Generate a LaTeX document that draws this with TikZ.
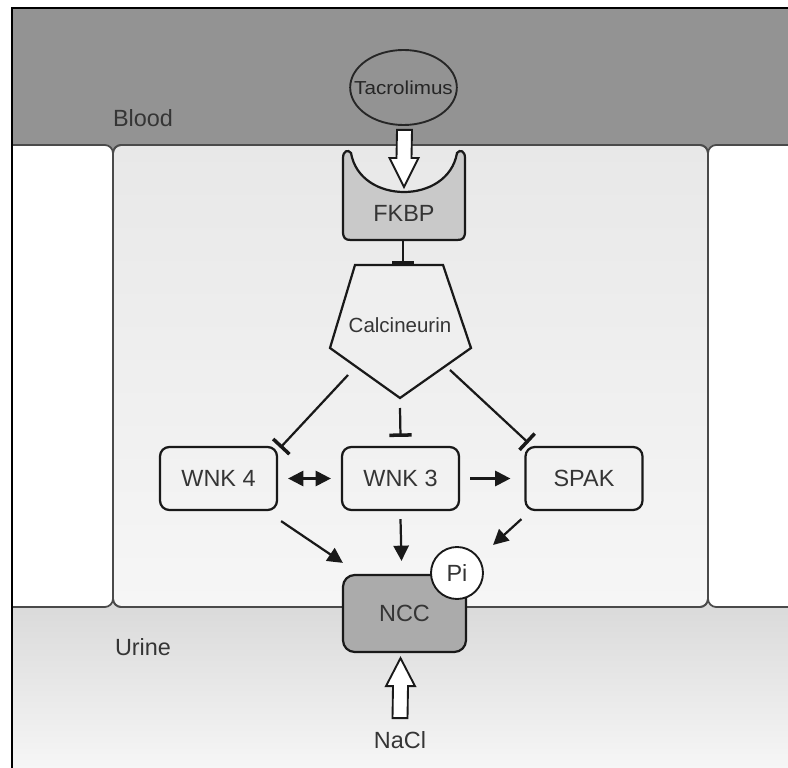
\documentclass[tikz,border=0pt]{standalone}
\usepackage{fontspec}
\setmainfont{Liberation Sans}
\usetikzlibrary{arrows.meta,calc,shapes.geometric}

\definecolor{blood}{HTML}{939393}
\definecolor{cellgrey}{HTML}{E8E8E8}
\definecolor{cellpale}{HTML}{F6F6F6}
\definecolor{urinetop}{HTML}{D9D9D9}
\definecolor{urinebot}{HTML}{F8F8F8}
\definecolor{membrane}{HTML}{4A4A4A}
\definecolor{fkbpfill}{HTML}{C9C9C9}
\definecolor{nccfill}{HTML}{ABABAB}
\definecolor{ink}{HTML}{353535}

\tikzset{
  lbl/.style={text=ink, font=\fontsize{20}{24}\selectfont, inner sep=0pt},
  kinase/.style={draw=black!90, line width=1.9pt, rounded corners=8pt,
    minimum width=3.51cm, minimum height=1.89cm, lbl},
  conn/.style={line width=1.9pt, draw=black!90},
  tipstyle/.style={},
  act/.style={conn, -{Triangle[length=13pt,width=13pt]}},
  actboth/.style={conn, {Triangle[length=13pt,width=13pt]}-{Triangle[length=13pt,width=13pt]}},
  inhib/.style={conn, -{Bar[width=19pt,line width=3pt]}},
  hollow/.style={draw=black!90, line width=1.6pt, fill=white, line join=miter},
  cellwall/.style={draw=membrane, line width=1.5pt, rounded corners=7pt}
}

\begin{document}
\begin{tikzpicture}[x=0.03cm, y=-0.03cm]
\useasboundingbox (0,0) rectangle (788,768);

% compartments: blood, urine and the three epithelial cells
\begin{scope}
  \clip (12,8) rectangle (788,768);
  \fill[blood] (0,0) rectangle (800,600);
  \shade[top color=urinetop, bottom color=urinebot] (0,600) rectangle (800,780);
  \filldraw[cellwall, fill=white] (-30,145) rectangle (113,607);
  \shade[cellwall, top color=cellgrey, bottom color=cellpale] (113,145) rectangle (708,607);
  \draw[cellwall] (113,145) rectangle (708,607);
  \filldraw[cellwall, fill=white] (708,145) rectangle (830,607);
\end{scope}
\draw[black, line width=1.5pt] (12,768) -- (12,8) -- (788,8);

% compartment labels
\node[lbl] (blood) at (143,118) {Blood};
\node[lbl] (urine) at (143,647) {Urine};

% Tacrolimus
\node[ellipse, draw=black!85, line width=1.6pt, fill=blood, minimum width=3.2cm,
  minimum height=2.25cm, inner sep=0pt, text=black!85,
  font=\fontsize{16}{18}\selectfont] (tac) at (403.5,87.5)
  {\makebox[0pt]{\scalebox{1.1}[1]{Tacrolimus}}};

% FKBP receptor with concave binding site
\filldraw[draw=black!90, line width=1.9pt, fill=fkbpfill]
  (343,158) .. controls (343,151) and (348,149) .. (351,153)
  .. controls (360,205) and (448,205) .. (457,153)
  .. controls (460,149) and (465,151) .. (465,158)
  -- (465,231) .. controls (465,238) and (463,240) .. (457,240)
  -- (351,240) .. controls (345,240) and (343,238) .. (343,231) -- cycle;
\node[lbl] (fkbp) at (404,213) {FKBP};

% binding arrow Tacrolimus -> FKBP
\coordinate (dtop) at ($(tac.south)+(1,4)$);
\coordinate (dtip) at ($(fkbp)+(0,-26)$);
\path[hollow] ($(dtop)+(-7.5,0)$) -- ($(dtip)+(-7.5,-29)$) -- ($(dtip)+(-14.5,-29)$)
  -- (dtip) -- ($(dtip)+(14.5,-29)$) -- ($(dtip)+(7.5,-29)$) -- ($(dtop)+(7.5,0)$) -- cycle;

% Calcineurin
\filldraw[draw=black!90, line width=1.9pt, fill=cellgrey!70!white, line join=miter]
  (355,265) -- (443,265) -- (471,348) -- (400,398) -- (330,348) -- cycle;
\node[lbl, font=\fontsize{17.5}{20}\selectfont] (cal) at (400,325) {Calcineurin};
\coordinate (caltop) at (403,265);
\coordinate (calL) at (348,375);
\coordinate (calB) at (400,408);
\coordinate (calR) at (450,370);

\draw[inhib] ($(fkbp)+(-1,27)$) -- (caltop);

% kinases
\node[kinase] (w4) at (218.5,478.5) {WNK 4};
\node[kinase] (w3) at (400.5,478.5) {WNK 3};
\node[kinase] (spak) at (584,478.5) {SPAK};

\draw[inhib] (calL) -- ($(w4.north east)+(2,2)$);
\draw[inhib] (calB) -- ($(w3.north)+(0,-9)$);
\draw[inhib] (calR) -- ($(spak.north west)+(4,-3)$);

\draw[actboth] ($(w4.east)+(10,0)$) -- ($(w3.west)+(-10,0)$);
\draw[act] ($(w3.east)+(10,0)$) -- ($(spak.west)+(-14,0)$);

% NCC transporter and phosphate
\node[draw=black!90, line width=1.9pt, rounded corners=10pt, fill=nccfill,
  minimum width=3.69cm, minimum height=2.31cm, lbl] (ncc) at (404.5,613.5) {NCC};
\node[circle, draw=black!90, line width=1.6pt, fill=white, minimum size=1.56cm,
  lbl] (pi) at (457,573) {Pi};

\draw[act] ($(w4.south east)+(3,10)$) -- ($(ncc.north west)+(1,-11)$);
\draw[act] ($(w3.south)+(0,8)$) -- ($(ncc.north)+(-3,-13)$);
\draw[act] ($(spak.south west)+(-3,8)$) -- ($(pi.north east)+(17,-9)$);

% NaCl uptake arrow
\node[lbl] (nacl) at (400,740) {NaCl};
\coordinate (utip) at ($(ncc.south)+(-4,5)$);
\coordinate (ubase) at ($(nacl.north)+(0,-13)$);
\path[hollow] ($(ubase)+(-7.5,0)$) -- ($(utip)+(-7.5,28)$) -- ($(utip)+(-14.5,28)$)
  -- (utip) -- ($(utip)+(14.5,28)$) -- ($(utip)+(7.5,28)$) -- ($(ubase)+(7.5,0)$) -- cycle;
\end{tikzpicture}
\end{document}
